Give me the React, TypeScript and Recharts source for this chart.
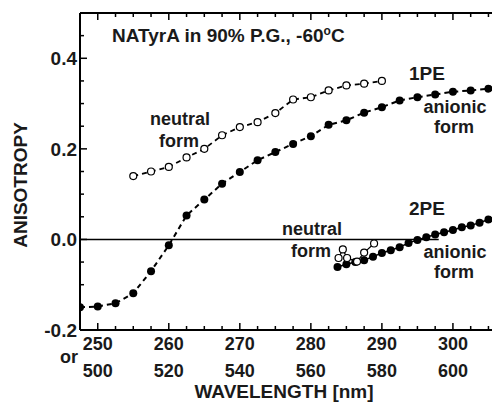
import { LineChart, Line, XAxis, YAxis, ReferenceLine, Customized } from "recharts";

// 1PE 陰イオン形 (塗りつぶし)
const anion1peX = [247.5, 250, 252.5, 255, 257.5, 260, 262.5, 265, 267.5, 270, 272.5, 275, 277.5, 280, 282.5, 285, 287.5, 290, 292.5, 295, 297.5, 300, 302.5, 305];
const anion1peY = [-0.15, -0.148, -0.141, -0.119, -0.07, -0.013, 0.053, 0.088, 0.123, 0.149, 0.175, 0.193, 0.211, 0.228, 0.253, 0.263, 0.28, 0.292, 0.307, 0.314, 0.32, 0.326, 0.329, 0.333];

// 1PE 中性形 (白抜き)
const neutral1peX = [255, 257.5, 260, 262.5, 265, 267.5, 270, 272.5, 275, 277.5, 280, 282.5, 285, 287.5, 290];
const neutral1peY = [0.14, 0.15, 0.16, 0.181, 0.2, 0.23, 0.248, 0.259, 0.279, 0.309, 0.314, 0.329, 0.34, 0.344, 0.35];

// 2PE 陰イオン形
const anion2peX = [283.75, 285, 286.25, 287.5, 288.75, 290, 291.25, 292.5, 293.75, 295, 296.25, 297.5, 298.75, 300, 301.25, 302.5, 303.75, 305];
const anion2peY = [-0.061, -0.055, -0.05, -0.046, -0.038, -0.03, -0.024, -0.017, -0.008, -0.001, 0.005, 0.011, 0.016, 0.021, 0.027, 0.031, 0.037, 0.044];

// 2PE 中性形
const neutral2peX = [283.9, 284.5, 285.1, 286.5, 287.5, 288.9];
const neutral2peY = [-0.041, -0.022, -0.041, -0.049, -0.029, -0.009];

const xTicks = [247.5, 250, 252.5, 255, 257.5, 260, 262.5, 265, 267.5, 270, 272.5, 275, 277.5, 280, 282.5, 285, 287.5, 290, 292.5, 295, 297.5, 300, 302.5, 305];
const xMajor = [250, 260, 270, 280, 290, 300];
const xLabels1 = ["250", "260", "270", "280", "290", "300"];
const xLabels2 = ["500", "520", "540", "560", "580", "600"];

const yTicks = [-0.2, -0.15, -0.1, -0.05, 0, 0.05, 0.1, 0.15, 0.2, 0.25, 0.3, 0.35, 0.4, 0.45, 0.5];
const yMajor = [-0.2, 0, 0.2, 0.4];
const yLabels = ["-0.2", "0.0", "0.2", "0.4"];

const toPoints = (xs: number[], ys: number[]) => xs.map((x, i) => ({ x, y: ys[i] }));

const FONT = "'Liberation Sans', Arial, sans-serif";
const INK = "#1a1a1a";

const BottomTick = (props: any) => {
  const { x, y, payload } = props;
  const idx = xMajor.indexOf(payload.value);
  const major = idx >= 0;
  return (
    <g>
      <line x1={x} y1={y} x2={x} y2={y - (major ? 7 : 4)} stroke="#000" strokeWidth={1.5} />
      {major && (
        <text x={x} y={y + 20} textAnchor="middle" fontFamily={FONT} fontWeight="bold" fontSize={18} fill={INK}>
          {xLabels1[idx]}
        </text>
      )}
      {major && (
        <text x={x} y={y + 47} textAnchor="middle" fontFamily={FONT} fontWeight="bold" fontSize={18} fill={INK}>
          {xLabels2[idx]}
        </text>
      )}
    </g>
  );
};

const TopTick = (props: any) => {
  const { x, y, payload } = props;
  const major = xMajor.indexOf(payload.value) >= 0;
  return <line x1={x} y1={y} x2={x} y2={y + (major ? 7 : 4)} stroke="#000" strokeWidth={1.5} />;
};

const LeftTick = (props: any) => {
  const { x, y, payload } = props;
  const idx = yMajor.indexOf(payload.value);
  const major = idx >= 0;
  return (
    <g>
      <line x1={x} y1={y} x2={x + (major ? 7 : 4)} y2={y} stroke="#000" strokeWidth={1.5} />
      {major && (
        <text x={x - 3} y={y + 7} textAnchor="end" fontFamily={FONT} fontWeight="bold" fontSize={19} fill={INK}>
          {yLabels[idx]}
        </text>
      )}
    </g>
  );
};

const Annotations = () => {
  const t = { fontFamily: FONT, fontWeight: "bold" as const, fill: INK };
  return (
    <g>
      <text x={112} y={42} fontSize={19} {...t}>
        NATyrA in 90% P.G., -60
        <tspan dy={-7} fontSize={12}>o</tspan>
        <tspan dy={7}>C</tspan>
      </text>
      <text x={427} y={80} fontSize={19} textAnchor="middle" {...t}>1PE</text>
      <text x={180} y={125} fontSize={18} textAnchor="middle" {...t}>neutral</text>
      <text x={179} y={147} fontSize={18} textAnchor="middle" {...t}>form</text>
      <text x={455} y={113} fontSize={18} textAnchor="middle" {...t}>anionic</text>
      <text x={454} y={133} fontSize={18} textAnchor="middle" {...t}>form</text>
      <text x={427} y={215} fontSize={19} textAnchor="middle" {...t}>2PE</text>
      <text x={312} y={235} fontSize={18} textAnchor="middle" {...t}>neutral</text>
      <text x={311} y={257} fontSize={18} textAnchor="middle" {...t}>form</text>
      <text x={455} y={258} fontSize={18} textAnchor="middle" {...t}>anionic</text>
      <text x={454} y={278} fontSize={18} textAnchor="middle" {...t}>form</text>
      <text x={78} y={363} fontSize={18} textAnchor="end" {...t}>or</text>
      <text x={284} y={398} fontSize={19} textAnchor="middle" {...t}>WAVELENGTH [nm]</text>
      <text x={27} y={185} fontSize={19} textAnchor="middle" transform="rotate(-90, 27, 185)" {...t}>ANISOTROPY</text>
    </g>
  );
};

const openDot = { r: 3.5, fill: "#fff", stroke: "#000", strokeWidth: 1.2, strokeDasharray: "0" };
const filledDot = { r: 4, fill: "#000", stroke: "#000", strokeWidth: 0, strokeDasharray: "0" };

export default function App() {
  return (
    <div style={{ position: "absolute", left: 0, top: 0, background: "#fff" }}>
      <LineChart width={492} height={405} margin={{ top: 0, right: 0, bottom: 0, left: 0 }}>
        <XAxis
          dataKey="x"
          type="number"
          domain={[247.5, 305.5]}
          ticks={xTicks}
          interval={0}
          allowDataOverflow
          height={75}
          tickSize={0}
          tickMargin={0}
          tickLine={false}
          tick={BottomTick}
          axisLine={{ stroke: "#000", strokeWidth: 2 }}
        />
        <XAxis
          xAxisId="top"
          orientation="top"
          dataKey="x"
          type="number"
          domain={[247.5, 305.5]}
          ticks={xTicks}
          interval={0}
          allowDataOverflow
          height={13}
          tickSize={0}
          tickMargin={0}
          tickLine={false}
          tick={TopTick}
          axisLine={{ stroke: "#000", strokeWidth: 2 }}
        />
        <YAxis
          type="number"
          domain={[-0.2, 0.5]}
          ticks={yTicks}
          interval={0}
          allowDataOverflow
          width={80}
          tickSize={0}
          tickMargin={0}
          tickLine={false}
          tick={LeftTick}
          axisLine={{ stroke: "#000", strokeWidth: 2 }}
        />
        <ReferenceLine
          segment={[{ x: 247.5, y: 0 }, { x: 298, y: 0 }]}
          stroke="#000"
          strokeWidth={1.5}
        />
        <Line
          data={toPoints(neutral1peX, neutral1peY)}
          dataKey="y"
          stroke="#000"
          strokeWidth={1.8}
          strokeDasharray="5 4"
          dot={openDot}
          isAnimationActive={false}
        />
        <Line
          data={toPoints(anion1peX, anion1peY)}
          dataKey="y"
          stroke="#000"
          strokeWidth={2}
          strokeDasharray="5 4"
          dot={filledDot}
          isAnimationActive={false}
        />
        <Line
          data={toPoints(anion2peX, anion2peY)}
          dataKey="y"
          stroke="#000"
          strokeWidth={1.5}
          dot={filledDot}
          isAnimationActive={false}
        />
        <Line
          data={toPoints(neutral2peX, neutral2peY)}
          dataKey="y"
          stroke="#000"
          strokeWidth={1.2}
          dot={openDot}
          isAnimationActive={false}
        />
        <Customized component={Annotations} />
      </LineChart>
    </div>
  );
}
